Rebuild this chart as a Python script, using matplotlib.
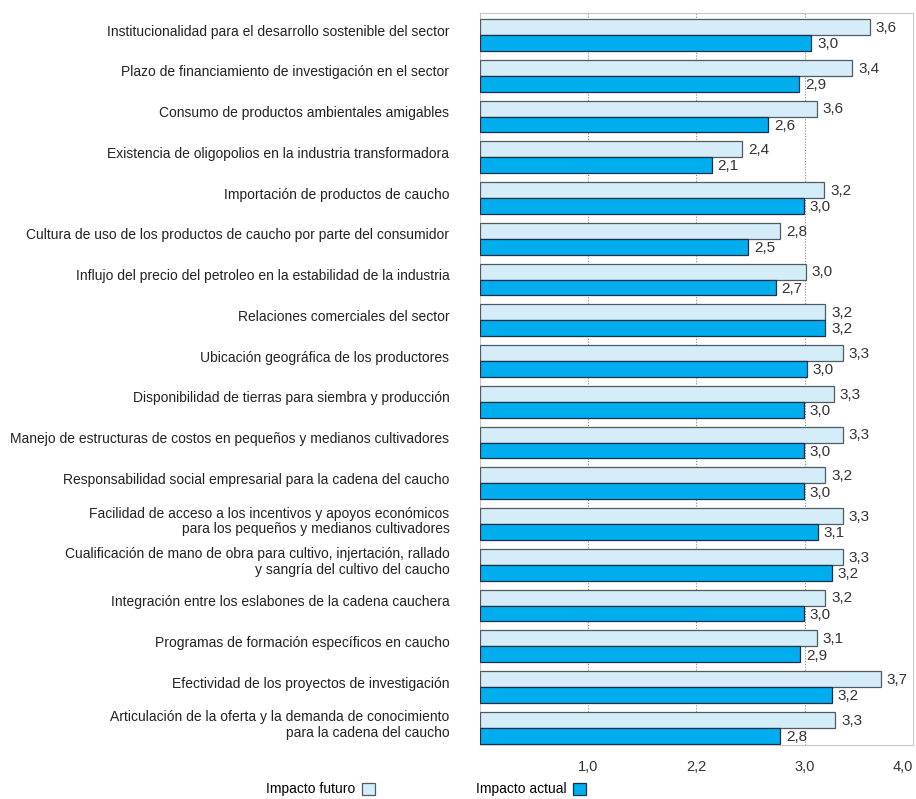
import matplotlib
matplotlib.use("Agg")
import matplotlib.pyplot as plt
from matplotlib.patches import Patch
import numpy as np

plt.rcParams['font.family'] = ['Liberation Sans', 'DejaVu Sans']

categories = [
    "Institucionalidad para el desarrollo sostenible del sector",
    "Plazo de financiamiento de investigación en el sector",
    "Consumo de productos ambientales amigables",
    "Existencia de oligopolios en la industria transformadora",
    "Importación de productos de caucho",
    "Cultura de uso de los productos de caucho por parte del consumidor",
    "Influjo del precio del petroleo en la estabilidad de la industria",
    "Relaciones comerciales del sector",
    "Ubicación geográfica de los productores",
    "Disponibilidad de tierras para siembra y producción",
    "Manejo de estructuras de costos en pequeños y medianos cultivadores",
    "Responsabilidad social empresarial para la cadena del caucho",
    "Facilidad de acceso a los incentivos y apoyos económicos\npara los pequeños y medianos cultivadores",
    "Cualificación de mano de obra para cultivo, injertación, rallado\ny sangría del cultivo del caucho",
    "Integración entre los eslabones de la cadena cauchera",
    "Programas de formación específicos en caucho",
    "Efectividad de los proyectos de investigación",
    "Articulación de la oferta y la demanda de conocimiento\npara la cadena del caucho",
]

# bar lengths as drawn in the picture
futuro_bar = [3.60, 3.44, 3.11, 2.42, 3.18, 2.77, 3.01, 3.19, 3.35, 3.27,
              3.35, 3.19, 3.35, 3.35, 3.19, 3.11, 3.70, 3.28]
actual_bar = [3.06, 2.95, 2.66, 2.14, 2.99, 2.48, 2.73, 3.19, 3.02, 2.99,
              2.99, 2.99, 3.12, 3.25, 2.99, 2.96, 3.25, 2.77]
# printed values
futuro_lbl = [3.6, 3.4, 3.6, 2.4, 3.2, 2.8, 3.0, 3.2, 3.3, 3.3,
              3.3, 3.2, 3.3, 3.3, 3.2, 3.1, 3.7, 3.3]
actual_lbl = [3.0, 2.9, 2.6, 2.1, 3.0, 2.5, 2.7, 3.2, 3.0, 3.0,
              3.0, 3.0, 3.1, 3.2, 3.0, 2.9, 3.2, 2.8]

xtick_pos = [1, 2, 3, 4]
xtick_lbl = ["1,0", "2,2", "3,0", "4,0"]
legend_labels = ["Impacto futuro", "Impacto actual"]

c_fut = "#D4EDF9"
c_act = "#00AEEF"
e_fut = "#505a60"
e_act = "#17324a"

fig = plt.figure(figsize=(9.16, 7.99), dpi=100)
ax = fig.add_axes([0.5240, 0.0676, 0.4727, 0.9161])

n = len(categories)
y = np.arange(n)
h = 0.39
ax.barh(y - h / 2, futuro_bar, height=h, color=c_fut, edgecolor=e_fut, linewidth=0.9, zorder=3)
ax.barh(y + h / 2, actual_bar, height=h, color=c_act, edgecolor=e_act, linewidth=0.9, zorder=3)

for i in range(n):
    ax.text(futuro_bar[i] + 0.055, y[i] - h / 2 + 0.02, f"{futuro_lbl[i]:.1f}".replace(".", ","),
            va="center", ha="left", fontsize=11, color="#333333", zorder=4)
    ax.text(actual_bar[i] + 0.055, y[i] + h / 2 + 0.03, f"{actual_lbl[i]:.1f}".replace(".", ","),
            va="center", ha="left", fontsize=11, color="#333333", zorder=4)

ax.set_xlim(0, 4)
ax.set_ylim(n - 1 + 0.42, -0.54)

for gx in xtick_pos[:3]:
    ax.axvline(gx, color="#8a8a8a", linestyle=(0, (1, 1.5)), linewidth=0.8, zorder=1)

ax.set_xticks(xtick_pos)
ax.set_xticklabels(xtick_lbl)
ax.get_xticklabels()[-1].set_horizontalalignment("right")
ax.tick_params(axis="x", length=0, pad=11, labelsize=10.5, labelcolor="#333333")

ax.set_yticks(y - 0.12)
ax.set_yticklabels(categories, linespacing=1.15)
ax.tick_params(axis="y", length=0, pad=22, labelsize=10, labelcolor="#222222")

for s in ax.spines.values():
    s.set_color("#c8c8c8")
    s.set_linewidth(0.8)

handles = [Patch(facecolor=c_fut, edgecolor=e_fut, linewidth=0.9),
           Patch(facecolor=c_act, edgecolor=e_act, linewidth=0.9)]
fig.legend(handles, legend_labels, loc="center", bbox_to_anchor=(0.465, 0.012),
           ncol=2, frameon=False, markerfirst=False, fontsize=10,
           handlelength=0.94, handleheight=0.94, handletextpad=0.43,
           columnspacing=7.3, borderaxespad=0, borderpad=0)

fig.savefig("out.png", dpi=100, facecolor="white")
